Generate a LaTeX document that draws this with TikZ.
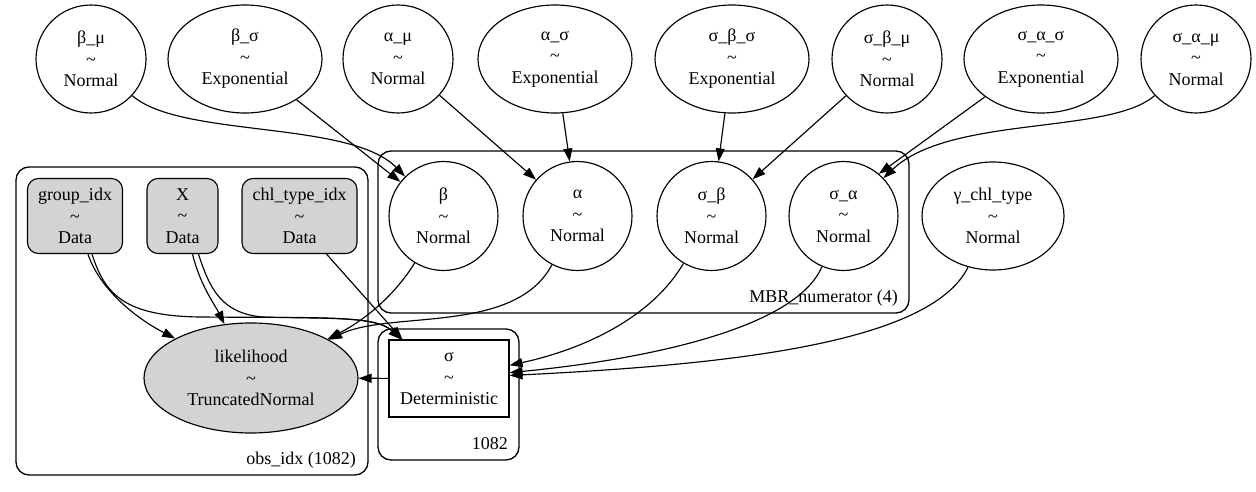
\documentclass[tikz,border=0pt]{standalone}
\usepackage{fontspec}
\setmainfont{Liberation Serif}
\usetikzlibrary{shapes.geometric,arrows.meta}
\definecolor{nodegray}{HTML}{D3D3D3}
\begin{document}
\begin{tikzpicture}[x=1pt,y=-1pt,
  every node/.style={font=\fontsize{18}{21.5}\selectfont, align=center, inner sep=0pt},
  rv/.style={ellipse, draw, line width=1.15pt, minimum width=110pt, minimum height=108pt},
  rvwide/.style={ellipse, draw, line width=1.15pt, minimum width=154pt, minimum height=108pt},
  circ/.style={circle, draw, line width=1.15pt, minimum size=109pt},
  datab/.style={rectangle, rounded corners=11pt, draw, fill=nodegray, line width=1.15pt, minimum height=75pt},
  detb/.style={rectangle, draw, line width=1.15pt, minimum width=120pt, minimum height=77pt},
  plate/.style={rectangle, rounded corners=13pt, draw, line width=1.35pt},
  platelab/.style={anchor=east},
  edge/.style={line width=1.15pt, -{Triangle[length=13pt,width=9pt]}},
]
\useasboundingbox (0,0) rectangle (1256,492);

% plates
\node[plate, minimum width=352pt, minimum height=308pt] (obs) at (192,321) {};
\node[plate, minimum width=531pt, minimum height=162pt] (mbr) at (643.5,232) {};
\node[plate, minimum width=141pt, minimum height=131pt] (pn) at (448.5,394.5) {};
\node[platelab] (obslab) at (356,460) {obs\_idx (1082)};
\node[platelab] (mbrlab) at (898,298) {MBR\_numerator (4)};
\node[platelab] (pnlab) at (508,444) {1082};

% top row
\node[rv] (bmu) at (91,59) {β\_μ\\\~{}\\Normal};
\node[rvwide] (bsig) at (245,59) {β\_σ\\\~{}\\Exponential};
\node[rv] (amu) at (398,59) {α\_μ\\\~{}\\Normal};
\node[rvwide] (asig) at (555,59) {α\_σ\\\~{}\\Exponential};
\node[rvwide] (sbs) at (732,59) {σ\_β\_σ\\\~{}\\Exponential};
\node[rv] (sbm) at (887,59) {σ\_β\_μ\\\~{}\\Normal};
\node[rvwide] (sas) at (1041,59) {σ\_α\_σ\\\~{}\\Exponential};
\node[rv] (sam) at (1196,59) {σ\_α\_μ\\\~{}\\Normal};

% second row
\node[datab, minimum width=95pt] (gidx) at (75,216) {group\_idx\\\~{}\\Data};
\node[datab, minimum width=71pt] (X) at (182.5,216) {X\\\~{}\\Data};
\node[datab, minimum width=115pt] (chl) at (299.5,216) {chl\_type\_idx\\\~{}\\Data};
\node[circ] (beta) at (443.5,216) {β\\\~{}\\Normal};
\node[circ] (alpha) at (577.5,216) {α\\\~{}\\Normal};
\node[circ] (sbeta) at (711.5,216) {σ\_β\\\~{}\\Normal};
\node[circ] (salpha) at (843.5,216) {σ\_α\\\~{}\\Normal};
\node[ellipse, draw, line width=1.15pt, minimum width=142pt, minimum height=108pt] (gamma) at (993,216) {γ\_chl\_type\\\~{}\\Normal};

% third row
\node[ellipse, draw, fill=nodegray, line width=1.15pt, minimum width=214pt, minimum height=110pt] (lik) at (251,378) {likelihood\\\~{}\\TruncatedNormal};
\node[detb] (sig) at (449,378.5) {σ\\\~{}\\Deterministic};

% edges
\draw[edge] (bmu) .. controls (180,138) and (350,120) .. (beta);
\draw[edge] (bsig) -- (beta);
\draw[edge] (amu) -- (alpha);
\draw[edge] (asig) -- (alpha);
\draw[edge] (sbs) -- (sbeta);
\draw[edge] (sbm) -- (sbeta);
\draw[edge] (sas.214) -- (salpha.50);
\draw[edge] (sam) .. controls (1110,135) and (950,115) .. (salpha);
\draw[edge] (beta) .. controls (395,295) and (365,320) .. (lik);
\draw[edge] (alpha) .. controls (515,335) and (390,310) .. (lik);
\draw[edge] ([xshift=13pt]gidx.south) .. controls (98,285) and (130,315) .. (lik);
\draw[edge] ([xshift=17pt]gidx.south) .. controls (105,295) and (125,316) .. (200,317) .. controls (320,318) and (375,315) .. ([xshift=13pt]sig.north west);
\draw[edge] ([xshift=10pt]X.south) .. controls (200,285) and (215,305) .. (lik);
\draw[edge] ([xshift=16pt]X.south) .. controls (210,290) and (222,313) .. (262,317) .. controls (330,319) and (376,316) .. ([xshift=13pt]sig.north west);
\draw[edge] ([xshift=27pt]chl.south) -- ([xshift=14pt]sig.north west);
\draw[edge] (sig) -- (lik);
\draw[edge] (sbeta) .. controls (650,320) and (580,350) .. (sig);
\draw[edge] (salpha) .. controls (795,330) and (640,360) .. (sig);
\draw[edge] (gamma) .. controls (930,345) and (720,365) .. (sig);
\end{tikzpicture}
\end{document}
